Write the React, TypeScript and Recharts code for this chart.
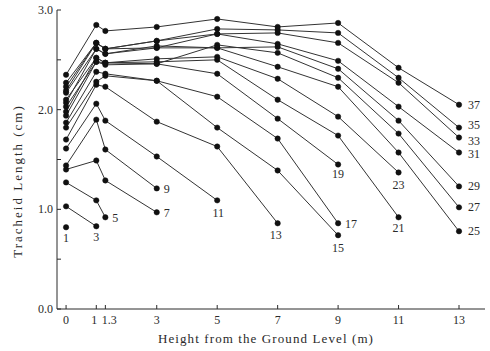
import React from 'react';
import { LineChart, Line, XAxis, YAxis } from 'recharts';

// Heights from the ground level (m) where tracheid length was measured
const heights = [0, 1, 1.3, 3, 5, 7, 9, 11, 13];
const xTickLabels = ['0', '1', '1.3', '3', '5', '7', '9', '11', '13'];
const yTicks = [0, 0.5, 1, 1.5, 2, 2.5, 3];
const yTickLabels: Record<string, string> = { '0': '0.0', '1': '1.0', '2': '2.0', '3': '3.0' };

// Tree ages (annual ring numbers) labelling each curve
const ages = [1, 3, 5, 7, 9, 11, 13, 15, 17, 19, 21, 23, 25, 27, 29, 31, 33, 35, 37];

// Tracheid length at successive heights for each age
const age1 = [0.82];
const age3 = [1.03, 0.83];
const age5 = [1.27, 1.09, 0.92];
const age7 = [1.4, 1.49, 1.29, 0.97];
const age9 = [1.44, 1.9, 1.6, 1.21];
const age11 = [1.61, 2.06, 1.89, 1.53, 1.09];
const age13 = [1.7, 2.25, 2.23, 1.88, 1.63, 0.86];
const age15 = [1.82, 2.28, 2.34, 2.29, 1.82, 1.39, 0.74];
const age17 = [1.87, 2.38, 2.36, 2.29, 2.13, 1.71, 0.86];
const age19 = [1.94, 2.48, 2.45, 2.46, 2.36, 1.91, 1.45];
const age21 = [1.98, 2.52, 2.47, 2.48, 2.5, 2.1, 1.74, 0.92];
const age23 = [2.03, 2.48, 2.47, 2.51, 2.53, 2.31, 1.93, 1.37];
const age25 = [2.07, 2.61, 2.56, 2.62, 2.62, 2.43, 2.23, 1.57, 0.78];
const age27 = [2.1, 2.52, 2.47, 2.46, 2.65, 2.57, 2.32, 1.76, 1.02];
const age29 = [2.17, 2.61, 2.56, 2.64, 2.62, 2.63, 2.41, 1.89, 1.23];
const age31 = [2.19, 2.67, 2.61, 2.62, 2.76, 2.66, 2.49, 2.03, 1.57];
const age33 = [2.23, 2.67, 2.61, 2.69, 2.76, 2.77, 2.67, 2.27, 1.72];
const age35 = [2.27, 2.67, 2.61, 2.69, 2.81, 2.8, 2.77, 2.32, 1.82];
const age37 = [2.35, 2.85, 2.79, 2.83, 2.91, 2.83, 2.87, 2.42, 2.05];

const seriesValues = [
  age1, age3, age5, age7, age9, age11, age13, age15, age17, age19,
  age21, age23, age25, age27, age29, age31, age33, age35, age37,
];

const tableData = heights.map((h, i) => {
  const row: Record<string, number | null> = { h };
  ages.forEach((a, k) => {
    const v = seriesValues[k][i];
    row['a' + a] = v === undefined ? null : v;
  });
  return row;
});

// label placement (style only): [dx, dy, anchor]
const labelPos: Record<number, [number, number, string]> = {
  1: [0, 15, 'middle'],
  3: [0, 15, 'middle'],
  5: [7, 5, 'start'],
  7: [7, 5, 'start'],
  9: [7, 5, 'start'],
  11: [1, 17, 'middle'],
  13: [-2, 16, 'middle'],
  15: [0, 17, 'middle'],
  17: [7, 5, 'start'],
  19: [0, 14, 'middle'],
  21: [0, 15, 'middle'],
  23: [0, 17, 'middle'],
  25: [9, 4, 'start'],
  27: [9, 4, 'start'],
  29: [9, 4, 'start'],
  31: [9, 5, 'start'],
  33: [9, 7, 'start'],
  35: [9, 1, 'start'],
  37: [9, 4, 'start'],
};

const FONT = "'Liberation Serif', 'DejaVu Serif', serif";
const INK = '#2a2a2a';

const makeEndLabel = (age: number, lastIdx: number) => (props: any) => {
  const { x, y, index } = props;
  if (index !== lastIdx || x == null || y == null) return <g key={`l${age}-${index}`} />;
  const [dx, dy, anchor] = labelPos[age];
  return (
    <text key={`l${age}-${index}`} x={x + dx} y={y + dy} textAnchor={anchor as any}
      fontFamily={FONT} fontSize={12} fill={INK}>
      {age}
    </text>
  );
};

const BottomTick = (props: any) => {
  const { x, y, payload } = props;
  const axisY = y - 8;
  const idx = heights.indexOf(payload.value);
  const shift = payload.value === 1.3 ? 4 : payload.value === 1 ? -2 : 0;
  return (
    <g>
      <line x1={x} x2={x} y1={axisY} y2={axisY - 4} stroke={INK} strokeWidth={1} />
      <text x={x + shift} y={axisY + 15} textAnchor="middle" fontFamily={FONT} fontSize={12} fill={INK}>
        {idx >= 0 ? xTickLabels[idx] : ''}
      </text>
    </g>
  );
};

const LeftTick = (props: any) => {
  const { x, y, payload } = props;
  const axisX = x + 4;
  const lab = yTickLabels[String(payload.value)];
  return (
    <g>
      <line x1={axisX} x2={axisX + 4} y1={y} y2={y} stroke={INK} strokeWidth={1} />
      {lab ? (
        <text x={axisX - 4} y={y + 4} textAnchor="end" fontFamily={FONT} fontSize={12} fill={INK}>
          {lab}
        </text>
      ) : null}
    </g>
  );
};

const TopTick = (props: any) => {
  const { x, y } = props;
  return <line x1={x} x2={x} y1={y} y2={y + 4} stroke={INK} strokeWidth={1} />;
};

const RightTick = (props: any) => {
  const { x, y } = props;
  return <line x1={x} x2={x - 4} y1={y} y2={y} stroke={INK} strokeWidth={1} />;
};

const XTitle = (props: any) => {
  const vb = props.viewBox || { x: 57, y: 309, width: 428 };
  return (
    <text x={vb.x + vb.width / 2 - 5} y={vb.y + 34} textAnchor="middle" fontFamily={FONT}
      fontSize={13} fill={INK} letterSpacing={1.1}>
      Height from the Ground Level (m)
    </text>
  );
};

const YTitle = () => {
  const cx = 17;
  const cy = 181;
  return (
    <text x={cx} y={cy} transform={`rotate(-90 ${cx} ${cy})`} textAnchor="middle"
      dominantBaseline="central" fontFamily={FONT} fontSize={13} fill={INK} letterSpacing={2}>
      Tracheid Length (cm)
    </text>
  );
};

export default function App() {
  return (
    <div style={{ position: 'absolute', left: 0, top: 0, width: 490, height: 351, background: '#fff' }}>
      <LineChart width={490} height={351} data={tableData}
        margin={{ top: 10, right: 5, bottom: 12, left: 0 }}>
        <XAxis xAxisId="b" dataKey="h" type="number" domain={[-0.3, 13.86]} allowDataOverflow
          ticks={heights} interval={0} tickSize={0} tickMargin={8} tickLine={false}
          tick={<BottomTick />} height={30} axisLine={{ stroke: INK, strokeWidth: 1 }}
          label={<XTitle />} />
        <XAxis xAxisId="t" dataKey="h" type="number" orientation="top" domain={[-0.3, 13.86]}
          allowDataOverflow ticks={heights} interval={0} tickSize={0} tickMargin={0}
          tickLine={false} tick={<TopTick />} height={0} axisLine={{ stroke: INK, strokeWidth: 1 }} />
        <YAxis yAxisId="l" type="number" domain={[0, 3]} ticks={yTicks} interval={0}
          tickSize={0} tickMargin={4} tickLine={false} tick={<LeftTick />} width={57}
          axisLine={{ stroke: INK, strokeWidth: 1 }} label={<YTitle />} />
        <YAxis yAxisId="r" orientation="right" type="number" domain={[0, 3]} ticks={yTicks}
          interval={0} tickSize={0} tickMargin={0} tickLine={false} tick={<RightTick />}
          width={0} axisLine={{ stroke: INK, strokeWidth: 1 }} />
        {ages.map((a, k) => (
          <Line key={a} xAxisId="b" yAxisId="l" dataKey={'a' + a} type="linear"
            stroke="#333" strokeWidth={1} isAnimationActive={false} connectNulls={false}
            dot={{ r: 2.7, fill: '#111', stroke: '#111', strokeWidth: 0.5 }}
            label={makeEndLabel(a, seriesValues[k].length - 1)} />
        ))}
      </LineChart>
    </div>
  );
}
